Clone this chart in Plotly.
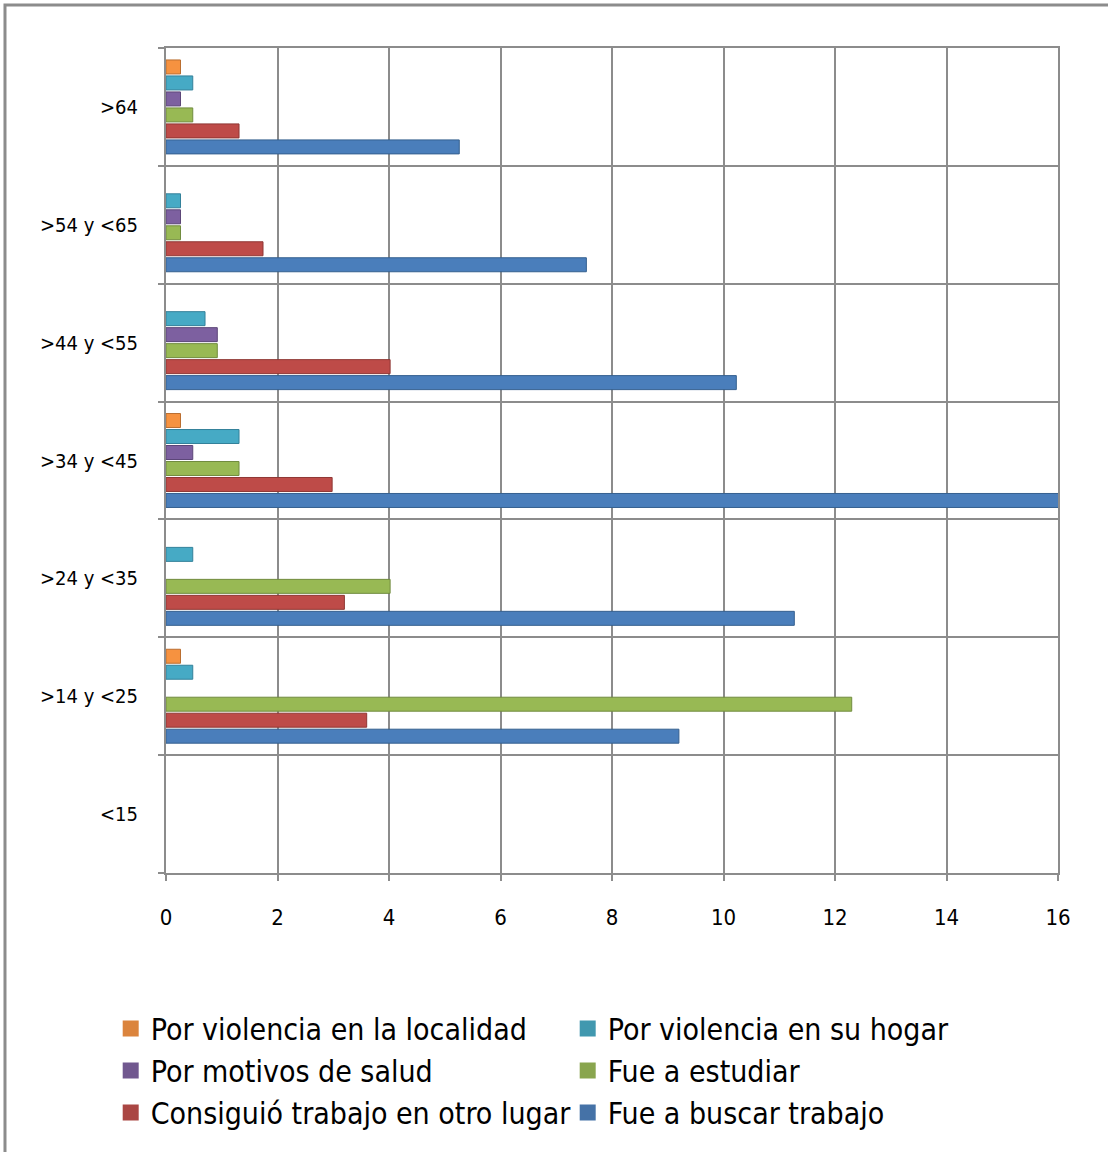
import plotly.graph_objects as go

categories = ["<15", ">14 y <25", ">24 y <35", ">34 y <45", ">44 y <55", ">54 y <65", ">64"]

series_names = [
    "Fue a buscar trabajo",
    "Consiguió trabajo en otro lugar",
    "Fue a estudiar",
    "Por motivos de salud",
    "Por violencia en su hogar",
    "Por violencia en la localidad",
]

fue_buscar_trabajo = [0, 9.2, 11.27, 16.03, 10.23, 7.54, 5.26]
consiguio_trabajo = [0, 3.6, 3.2, 2.98, 4.02, 1.74, 1.31]
fue_estudiar = [0, 12.3, 4.02, 1.31, 0.92, 0.26, 0.48]
motivos_salud = [0, 0, 0, 0.48, 0.92, 0.26, 0.26]
violencia_hogar = [0, 0.48, 0.48, 1.31, 0.7, 0.26, 0.48]
violencia_localidad = [0, 0.26, 0, 0.26, 0, 0, 0.26]

series_values = [fue_buscar_trabajo, consiguio_trabajo, fue_estudiar,
                 motivos_salud, violencia_hogar, violencia_localidad]

bar_colors = ["#4A7EBB", "#BE4B48", "#98B954", "#7D60A0", "#46AAC5", "#F69240"]
edge_colors = ["#35608F", "#8F3734", "#718C3F", "#5C4678", "#33819A", "#BA6E30"]
legend_colors = ["#4572A7", "#AA4643", "#89A54E", "#71588F", "#4198AF", "#DB843D"]

x_ticks = [0, 2, 4, 6, 8, 10, 12, 14, 16]

FONT = "DejaVu Sans Condensed, Liberation Sans Narrow, sans-serif"

fig = go.Figure()
for name, vals, c, ec in zip(series_names, series_values, bar_colors, edge_colors):
    fig.add_trace(go.Bar(
        y=categories, x=[v if v else None for v in vals], name=name, orientation="h",
        marker=dict(color=c, line=dict(color=ec, width=1)),
        showlegend=False,
    ))

# legend entries (square swatches)
for name, c in zip(series_names, legend_colors):
    fig.add_trace(go.Scatter(
        x=[None], y=[None], mode="markers", name=name,
        marker=dict(symbol="square", size=20, color=c),
        showlegend=True,
    ))

fig.update_layout(
    width=1108, height=1152,
    margin=dict(l=166, r=50, t=48, b=279),
    plot_bgcolor="white", paper_bgcolor="white",
    barmode="group", bargap=0.186, bargroupgap=0.125,
    font=dict(family=FONT, color="black"),
    legend=dict(
        orientation="h", traceorder="reversed",
        x=-0.062, xanchor="left", y=-0.157, yanchor="top",
        entrywidth=412, entrywidthmode="pixels",
        font=dict(size=30, family=FONT),
        bgcolor="rgba(0,0,0,0)",
    ),
    shapes=[dict(
        type="rect", xref="paper", yref="paper",
        x0=-0.1805, x1=1.2, y0=1.052, y1=-0.4,
        line=dict(color="#8C8C8C", width=3), fillcolor="rgba(0,0,0,0)",
        layer="below",
    )],
)

fig.update_xaxes(
    range=[0, 16], tickvals=x_ticks, ticktext=[str(t) for t in x_ticks],
    showgrid=True, gridcolor="#8C8C8C", gridwidth=2,
    showline=True, linecolor="#8C8C8C", linewidth=2, mirror=True,
    ticks="outside", ticklen=6, tickcolor="#8C8C8C", tickwidth=2,
    ticklabelstandoff=18,
    tickfont=dict(size=22, family=FONT),
    zeroline=False,
)
fig.update_yaxes(
    categoryorder="array", categoryarray=categories,
    tickson="boundaries",
    showgrid=True, gridcolor="#8C8C8C", gridwidth=2,
    showline=True, linecolor="#8C8C8C", linewidth=2, mirror=True,
    ticks="outside", ticklen=6, tickcolor="#8C8C8C", tickwidth=2,
    ticklabelstandoff=22,
    tickfont=dict(size=20, family=FONT),
)

fig.write_html("out.html", config={"displayModeBar": False},
               post_script="document.body.style.margin='0';")
